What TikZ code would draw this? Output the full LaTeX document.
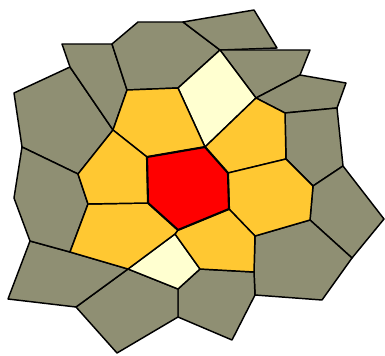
\documentclass[tikz,border=0pt]{standalone}
\usepackage{tikz}

\definecolor{cellolive}{RGB}{143,143,115}
\definecolor{cellamber}{RGB}{255,200,50}
\definecolor{cellcream}{RGB}{255,255,208}
\definecolor{cellred}{RGB}{255,0,0}

\begin{document}
\begin{tikzpicture}[
    x=0.75pt, y=-0.75pt,
    cell/.style={draw=black, line width=1.1pt, line join=round},
    outer/.style={cell, fill=cellolive},
    ring/.style={cell, fill=cellamber},
    pale/.style={cell, fill=cellcream},
    core/.style={cell, fill=cellred, line width=1.6pt},
  ]
    \useasboundingbox (0,0) rectangle (385,356);

    % Внешний слой
    \draw[outer] (14,93) -- (70,67) -- (113,130) -- (78,174) -- (22,147) -- cycle;
    \draw[outer] (62,44) -- (112,44) -- (127,90) -- (113,130) -- (70,67) -- cycle;
    \draw[outer] (112,44) -- (138,22) -- (183,22) -- (220,50) -- (178,88) -- (127,90) -- cycle;
    \draw[outer] (183,22) -- (254,10) -- (277,48) -- (220,50) -- cycle;
    \draw[outer] (220,50) -- (310,50) -- (300,75) -- (256,98) -- cycle;
    \draw[outer] (300,75) -- (346,83) -- (337,108) -- (285,113) -- (256,98) -- cycle;
    \draw[outer] (285,113) -- (337,108) -- (343,166) -- (313,186) -- (286,159) -- cycle;
    \draw[outer] (313,186) -- (343,166) -- (384,219) -- (352,258) -- (310,220) -- cycle;
    \draw[outer] (255,236) -- (310,220) -- (352,258) -- (322,300) -- (255,295) -- (254,272) -- cycle;
    \draw[outer] (178,289) -- (200,269) -- (254,272) -- (255,295) -- (232,340) -- (178,317) -- cycle;
    \draw[outer] (128,269) -- (178,289) -- (178,317) -- (117,353) -- (76,307) -- cycle;
    \draw[outer] (30,241) -- (70,252) -- (128,269) -- (76,307) -- (8,299) -- cycle;
    \draw[outer] (22,147) -- (78,174) -- (88,204) -- (70,252) -- (30,241) -- (14,198) -- cycle;

    % Светлые ячейки
    \draw[pale] (178,88) -- (220,50) -- (256,98) -- (205,147) -- cycle;
    \draw[pale] (175,234) -- (200,269) -- (178,289) -- (128,269) -- cycle;

    % Кольцо вокруг центра
    \draw[ring] (127,90) -- (178,88) -- (205,147) -- (147,157) -- (113,130) -- cycle;
    \draw[ring] (205,147) -- (256,98) -- (285,113) -- (286,159) -- (228,173) -- cycle;
    \draw[ring] (228,173) -- (286,159) -- (313,186) -- (310,220) -- (255,236) -- (229,209) -- cycle;
    \draw[ring] (178,230) -- (229,209) -- (255,236) -- (254,272) -- (200,269) -- (175,234) -- cycle;
    \draw[ring] (88,204) -- (148,203) -- (178,230) -- (175,234) -- (128,269) -- (70,252) -- cycle;
    \draw[ring] (113,130) -- (147,157) -- (148,203) -- (88,204) -- (78,174) -- cycle;

    % Центр
    \draw[core] (147,157) -- (205,147) -- (228,173) -- (229,209) -- (178,230) -- (148,203) -- cycle;
\end{tikzpicture}
\end{document}
